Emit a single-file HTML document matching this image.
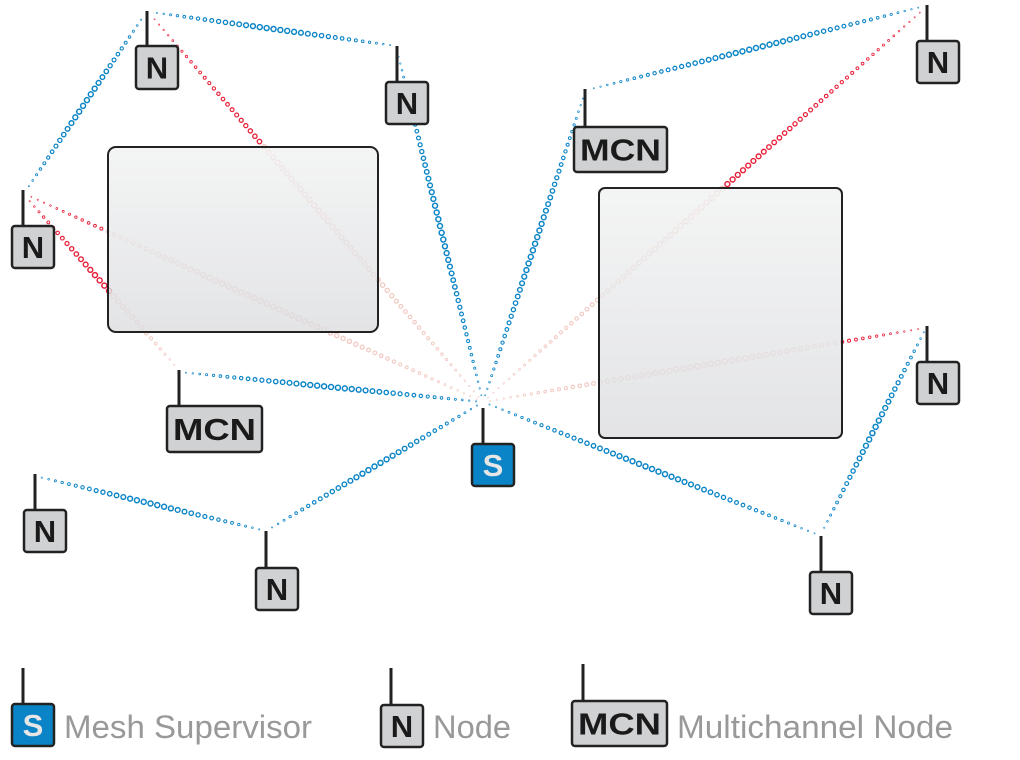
<!DOCTYPE html>
<html><head><meta charset="utf-8"><style>
html,body{margin:0;padding:0;background:#fff;}
svg{display:block;}
</style></head><body>
<svg id="s" width="1020" height="760" viewBox="0 0 1020 760" xmlns="http://www.w3.org/2000/svg">
<defs>
<linearGradient id="g" x1="0" y1="0" x2="0" y2="1">
<stop offset="0" stop-color="#f1f2f2"/><stop offset="1" stop-color="#dcdde0"/>
</linearGradient>
</defs>
<g id="links"></g>
<rect x="108" y="147" width="270" height="185" rx="8" fill="url(#g)" fill-opacity="0.8" stroke="#222" stroke-width="2"/>
<rect x="599" y="188" width="243" height="250" rx="6" fill="url(#g)" fill-opacity="0.8" stroke="#222" stroke-width="2"/>
<g id="nodes" font-family="Liberation Sans, sans-serif" font-weight="bold"></g>
<g font-family="Liberation Sans, sans-serif" font-size="32" fill="#999">
<text x="64" y="738" textLength="248" lengthAdjust="spacingAndGlyphs">Mesh Supervisor</text>
<text x="433" y="738" textLength="78" lengthAdjust="spacingAndGlyphs">Node</text>
<text x="677" y="738" textLength="276" lengthAdjust="spacingAndGlyphs">Multichannel Node</text>
</g>
</svg>
<script>
var NS="http://www.w3.org/2000/svg";
var L=document.getElementById('links'),N=document.getElementById('nodes');
var B="#0a84c6",R="#e8213a";
function link(x1,y1,x2,y2,c,fade){
 var d=Math.hypot(x2-x1,y2-y1),n=Math.round(d/7);
 for(var i=1;i<n;i++){var t=i/n,s=Math.sin(Math.PI*t);
  var e=document.createElementNS(NS,'circle');
  e.setAttribute('cx',x1+(x2-x1)*t);e.setAttribute('cy',y1+(y2-y1)*t);
  e.setAttribute('r',0.5+2.0*s);e.setAttribute('fill','none');
  e.setAttribute('stroke',c);e.setAttribute('stroke-width',0.5+1.0*s);
  if(fade&&t>fade){e.setAttribute('stroke','#e89a90');e.setAttribute('stroke-opacity',0.55);}
  L.appendChild(e);}
}
var S=[483,402];
link(397,50,S[0],S[1],B);
link(585,92,S[0],S[1],B);
link(179,372,S[0],S[1],B);
link(266,531,S[0],S[1],B);
link(821,536,S[0],S[1],B);
link(150,12,397,46,B);
link(145,14,25,192,B);
link(35,476,266,531,B);
link(821,534,927,326,B);
link(587,90,925,6,B);
link(150,14,S[0],S[1],R,0.33);
link(25,194,S[0],S[1],R,0.18);
link(25,196,179,370,R,0.55);
link(925,8,S[0],S[1],R,0.45);
link(925,328,S[0],S[1],R,0.2);
function node(x,y,w,h,ax,at,lbl,fill,tc,fs){
 var a=document.createElementNS(NS,'rect');a.setAttribute('x',ax-1.5);a.setAttribute('y',at);a.setAttribute('width',3);a.setAttribute('height',y-at+1);a.setAttribute('fill','#222');N.appendChild(a);
 var r=document.createElementNS(NS,'rect');r.setAttribute('x',x);r.setAttribute('y',y);r.setAttribute('width',w);r.setAttribute('height',h);r.setAttribute('rx',3);r.setAttribute('fill',fill);r.setAttribute('stroke','#222');r.setAttribute('stroke-width',2.5);N.appendChild(r);
 var t=document.createElementNS(NS,'text');t.setAttribute('x',x+w/2);t.setAttribute('y',y+h/2+fs*0.36);t.setAttribute('text-anchor','middle');t.setAttribute('font-size',fs);t.setAttribute('fill',tc);
 if(lbl.length>1){t.setAttribute('textLength',w-12);t.setAttribute('lengthAdjust','spacingAndGlyphs');}
 t.textContent=lbl;N.appendChild(t);
}
var G="#d0d1d3",K="#1a1a1a";
node(136,46,42,43,147,11,'N',G,K,31);
node(386,82,42,42,397,46,'N',G,K,31);
node(12,226,42,42,23,190,'N',G,K,31);
node(574,127,93,45,585,89,'MCN',G,K,31);
node(917,41,42,42,927,5,'N',G,K,31);
node(917,362,42,42,927,326,'N',G,K,31);
node(167,406,95,46,179,370,'MCN',G,K,31);
node(472,444,42,42,483,408,'S',"#0a84c6","#e6e6e6",31);
node(24,510,42,42,35,474,'N',G,K,31);
node(256,568,42,42,266,531,'N',G,K,31);
node(810,572,42,42,821,536,'N',G,K,31);
node(12,704,42,42,23,668,'S',"#0a84c6","#e6e6e6",31);
node(381,705,42,42,391,668,'N',G,K,31);
node(572,701,95,45,583,664,'MCN',G,K,31);
</script>
</body></html>
